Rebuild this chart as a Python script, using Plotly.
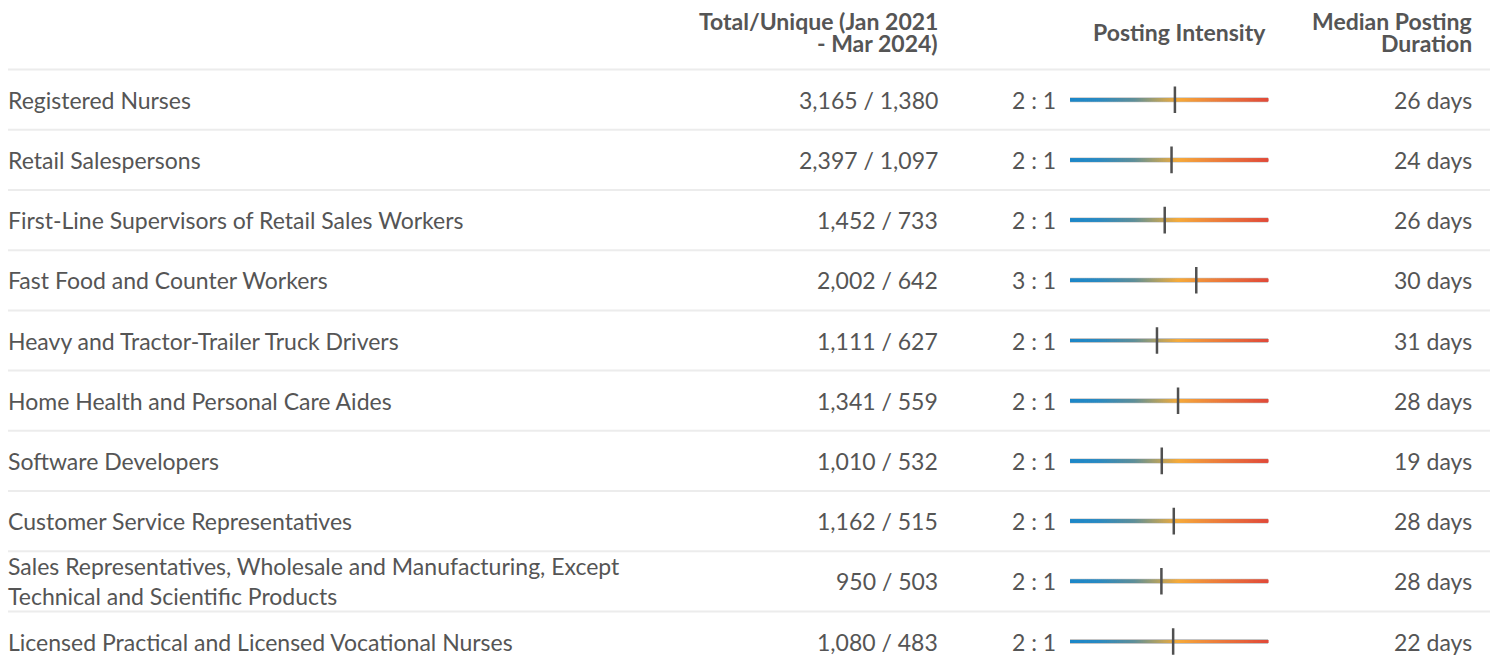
import numpy as np
import plotly.graph_objects as go

occupations = [
    "Registered Nurses",
    "Retail Salespersons",
    "First-Line Supervisors of Retail Sales Workers",
    "Fast Food and Counter Workers",
    "Heavy and Tractor-Trailer Truck Drivers",
    "Home Health and Personal Care Aides",
    "Software Developers",
    "Customer Service Representatives",
    "Sales Representatives, Wholesale and Manufacturing, Except<br>Technical and Scientific Products",
    "Licensed Practical and Licensed Vocational Nurses",
]
total_postings = [3165, 2397, 1452, 2002, 1111, 1341, 1010, 1162, 950, 1080]
unique_postings = [1380, 1097, 733, 642, 627, 559, 532, 515, 503, 483]
intensity_labels = ["2 : 1", "2 : 1", "2 : 1", "3 : 1", "2 : 1", "2 : 1", "2 : 1", "2 : 1", "2 : 1", "2 : 1"]
median_duration_days = [26, 24, 26, 30, 31, 28, 19, 28, 28, 22]

header_total = ["Total/Unique (Jan 2021", "- Mar 2024)"]
header_intensity = "Posting Intensity"
header_duration = ["Median Posting", "Duration"]

W, H = 1497, 668
FONT = "Lato"
TXT = "#555555"
FS = 23

n = len(occupations)
rows = np.arange(n)
intensity = np.array(total_postings) / np.array(unique_postings)

# intensity scale (log)
lo, hi = 0.507, 8.79
fig = go.Figure()

# separators
for r in rows:
    fig.add_shape(type="line", xref="x", yref="y", x0=8, x1=1490, y0=r - 0.5, y1=r - 0.5,
                  line=dict(color="#ececec", width=2), layer="below")

# gradient bars
xs = np.logspace(np.log10(lo), np.log10(hi), 300)
frac = np.linspace(0, 1, len(xs))
cscale = [[0.0, "#1a87c9"], [0.15, "#2a8ac2"], [0.33, "#5f8f98"], [0.45, "#b0a163"],
          [0.55, "#f6aa3a"], [0.72, "#ee833c"], [1.0, "#e14b3a"]]
for r in rows:
    fig.add_trace(go.Scatter(x=[lo, hi], y=[r, r], mode="lines", xaxis="x2", yaxis="y",
                             line=dict(color="#c4c4c4", width=5), hoverinfo="skip", showlegend=False))
    fig.add_trace(go.Scatter(x=xs, y=[r] * len(xs), mode="markers", xaxis="x2", yaxis="y",
                             marker=dict(symbol="square", size=3, color=frac, colorscale=cscale,
                                         cmin=0, cmax=1, line=dict(width=0)),
                             hoverinfo="skip", showlegend=False))

# intensity ticks
fig.add_trace(go.Scatter(x=intensity, y=rows, mode="markers", xaxis="x2", yaxis="y",
                         marker=dict(symbol="line-ns", size=19, line=dict(color="#505050", width=2.5)),
                         showlegend=False, hovertemplate="%{x:.2f}<extra></extra>"))

# text columns
for r in rows:
    fig.add_annotation(x=6, y=r, xref="x", yref="y", text=occupations[r], showarrow=False,
                       xanchor="left", yanchor="middle", align="left",
                       font=dict(family=FONT, size=FS, color=TXT))
    fig.add_annotation(x=940, y=r, xref="x", yref="y",
                       text=f"{total_postings[r]:,} / {unique_postings[r]:,}", showarrow=False,
                       xanchor="right", yanchor="middle", font=dict(family=FONT, size=FS, color=TXT))
    fig.add_annotation(x=1058, y=r, xref="x", yref="y", text=intensity_labels[r], showarrow=False,
                       xanchor="right", yanchor="middle", font=dict(family=FONT, size=FS, color=TXT))
    fig.add_annotation(x=1474, y=r, xref="x", yref="y", text=f"{median_duration_days[r]} days",
                       showarrow=False, xanchor="right", yanchor="middle",
                       font=dict(family=FONT, size=FS, color=TXT))

# headers
hfont = dict(family=FONT, size=FS, color=TXT, weight="bold")
top_line, bot_line, mid_line = -1.31, -0.935, -1.13
fig.add_annotation(x=940, y=top_line, xref="x", yref="y", text=header_total[0], showarrow=False,
                   xanchor="right", yanchor="middle", font=hfont)
fig.add_annotation(x=940, y=bot_line, xref="x", yref="y", text=header_total[1], showarrow=False,
                   xanchor="right", yanchor="middle", font=hfont)
fig.add_annotation(x=1268, y=mid_line, xref="x", yref="y", text=header_intensity, showarrow=False,
                   xanchor="right", yanchor="middle", font=hfont)
fig.add_annotation(x=1474, y=top_line, xref="x", yref="y", text=header_duration[0], showarrow=False,
                   xanchor="right", yanchor="middle", font=hfont)
fig.add_annotation(x=1474, y=bot_line, xref="x", yref="y", text=header_duration[1], showarrow=False,
                   xanchor="right", yanchor="middle", font=hfont)

fig.update_layout(
    width=W, height=H, margin=dict(l=0, r=0, t=0, b=0),
    paper_bgcolor="white", plot_bgcolor="rgba(0,0,0,0)",
    xaxis=dict(range=[0, W], visible=False, fixedrange=True),
    xaxis2=dict(type="log", range=[np.log10(lo), np.log10(hi)], domain=[1070 / W, 1268.3 / W],
                anchor="y", visible=False, fixedrange=True),
    yaxis=dict(range=[(H - 99.7) / 60.2, -99.7 / 60.2], visible=False, fixedrange=True),
    font=dict(family=FONT, color=TXT),
)
fig.write_html("out.html", config={"displayModeBar": False},
               post_script="document.body.style.margin='0';document.body.style.overflow='hidden';")
